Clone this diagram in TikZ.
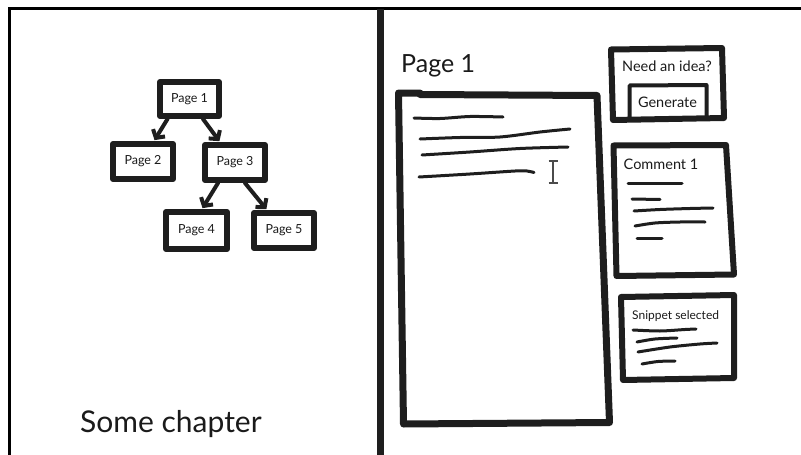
\documentclass[tikz,border=0pt]{standalone}
\usepackage{fontspec}
\setmainfont{Lato}
\usetikzlibrary{arrows.meta}
\definecolor{ink}{HTML}{1E1E1E}
\definecolor{txt}{HTML}{1A1A1A}
\begin{document}
\begin{tikzpicture}[x=1pt,y=-1pt,
  treebox/.style={draw=ink,line width=6pt,rectangle,line join=round,
    minimum width=60pt,minimum height=35pt,inner sep=0pt,
    font=\fontsize{12.5}{14}\selectfont,text=txt},
  treearrow/.style={draw=ink,line width=4pt,line cap=round,shorten >=1pt,
    -{Straight Barb[length=6pt,width=14pt,line width=4pt]}},
  panel/.style={draw=ink,line width=6pt,line join=round,line cap=round},
  scribble/.style={draw=ink,line width=3pt,line cap=round},
  label/.style={text=txt,inner sep=0pt}
]
\useasboundingbox (0,0) rectangle (801,455);

% outer frame and divider
\draw[black,line width=3pt] (9.5,455) -- (9.5,8.5) -- (801,8.5);
\draw[ink,line width=6.5pt] (380.5,9) -- (380.5,455);

% ---- page tree ----
\node[treebox,minimum width=59pt,minimum height=34pt] (p1) at (189.5,99) {Page 1};
\node[treebox] (p2) at (143,161.5) {Page 2};
\node[treebox] (p3) at (235,162.5) {Page 3};
\node[treebox,minimum width=61pt,minimum height=37pt] (p4) at (196.5,230.5) {Page 4};
\node[treebox] (p5) at (284,230.5) {Page 5};

\draw[treearrow] ([xshift=-22pt]p1.south) -- ([xshift=11pt]p2.north);
\draw[treearrow] ([xshift=13.5pt]p1.south) -- ([xshift=-15pt]p3.north);
\draw[treearrow] ([xshift=-17pt]p3.south) -- ([xshift=5.5pt]p4.north);
\draw[treearrow] ([xshift=10pt]p3.south) -- ([xshift=-17pt]p5.north);

\node[label,anchor=base west,font=\fontsize{30}{36}\selectfont] (chap) at (80,432) {Some chapter};

% ---- editor ----
\node[label,anchor=base west,font=\fontsize{25}{30}\selectfont] (ptitle) at (401,72) {Page 1};

\draw[panel,line width=7pt] (398.5,93) -- (420,93) -- (420,94.5) -- (597,95.5)
  -- (609.5,422.5) -- (403.5,424) -- cycle;

\draw[scribble] plot[smooth] coordinates {(414,118) (440,118.5) (470,116.5) (503,117)};
\draw[scribble] plot[smooth] coordinates {(420,139) (460,137.5) (500,137) (540,132) (570,129)};
\draw[scribble] plot[smooth] coordinates {(422,155) (470,152) (520,148.5) (568,147)};
\draw[scribble] plot[smooth] coordinates {(419,177) (470,174) (515,171) (527,171) (534,172.5)};

% text cursor
\draw[ink!80,line width=1.3pt] (553,161) -- (553,183)
  (548.5,161) -- (557.5,161) (548.5,183) -- (557.5,183);

% ---- idea box ----
\draw[panel] (611,49.5) -- (722,48) -- (724,118) -- (613,120) -- cycle;
\draw[ink,line width=4pt,line join=round] (629.5,118.5) -- (629.5,85.5) -- (706.5,85) -- (706.5,118);
\node[label,anchor=base,font=\fontsize{14.5}{17}\selectfont] (idea) at (667,71.7) {Need an idea?};
\node[label,anchor=base,font=\fontsize{14.5}{17}\selectfont] (gen) at (667.5,107.3) {Generate};

% ---- comment box ----
\draw[panel] (613.5,145.5) -- (726,145) -- (734,274.5) -- (616.5,276) -- cycle;
\node[label,anchor=base west,font=\fontsize{14.5}{17}\selectfont] (com) at (623.5,169) {Comment 1};
\draw[scribble] (628,183) -- (682,183);
\draw[scribble] (632,199) -- (660,199.5);
\draw[scribble] plot[smooth] coordinates {(634,211) (660,209.5) (690,208.5) (713,208)};
\draw[scribble] plot[smooth] coordinates {(635,226) (655,223) (680,222) (705,222)};
\draw[scribble] (637,238) -- (662,238);

% ---- snippet box ----
\draw[panel] (621,297) -- (734,295) -- (734,378) -- (623,380) -- cycle;
\node[label,anchor=base west,font=\fontsize{12}{14}\selectfont] (snip) at (632,319) {Snippet selected};
\draw[scribble] plot[smooth] coordinates {(633,330) (660,331) (685,329.5) (696,329)};
\draw[scribble] plot[smooth] coordinates {(637,342) (655,339) (677,338)};
\draw[scribble] plot[smooth] coordinates {(638,352) (670,347) (700,344) (717,343)};
\draw[scribble] plot[smooth] coordinates {(642,364) (658,361.5) (675,361)};
\end{tikzpicture}
\end{document}
